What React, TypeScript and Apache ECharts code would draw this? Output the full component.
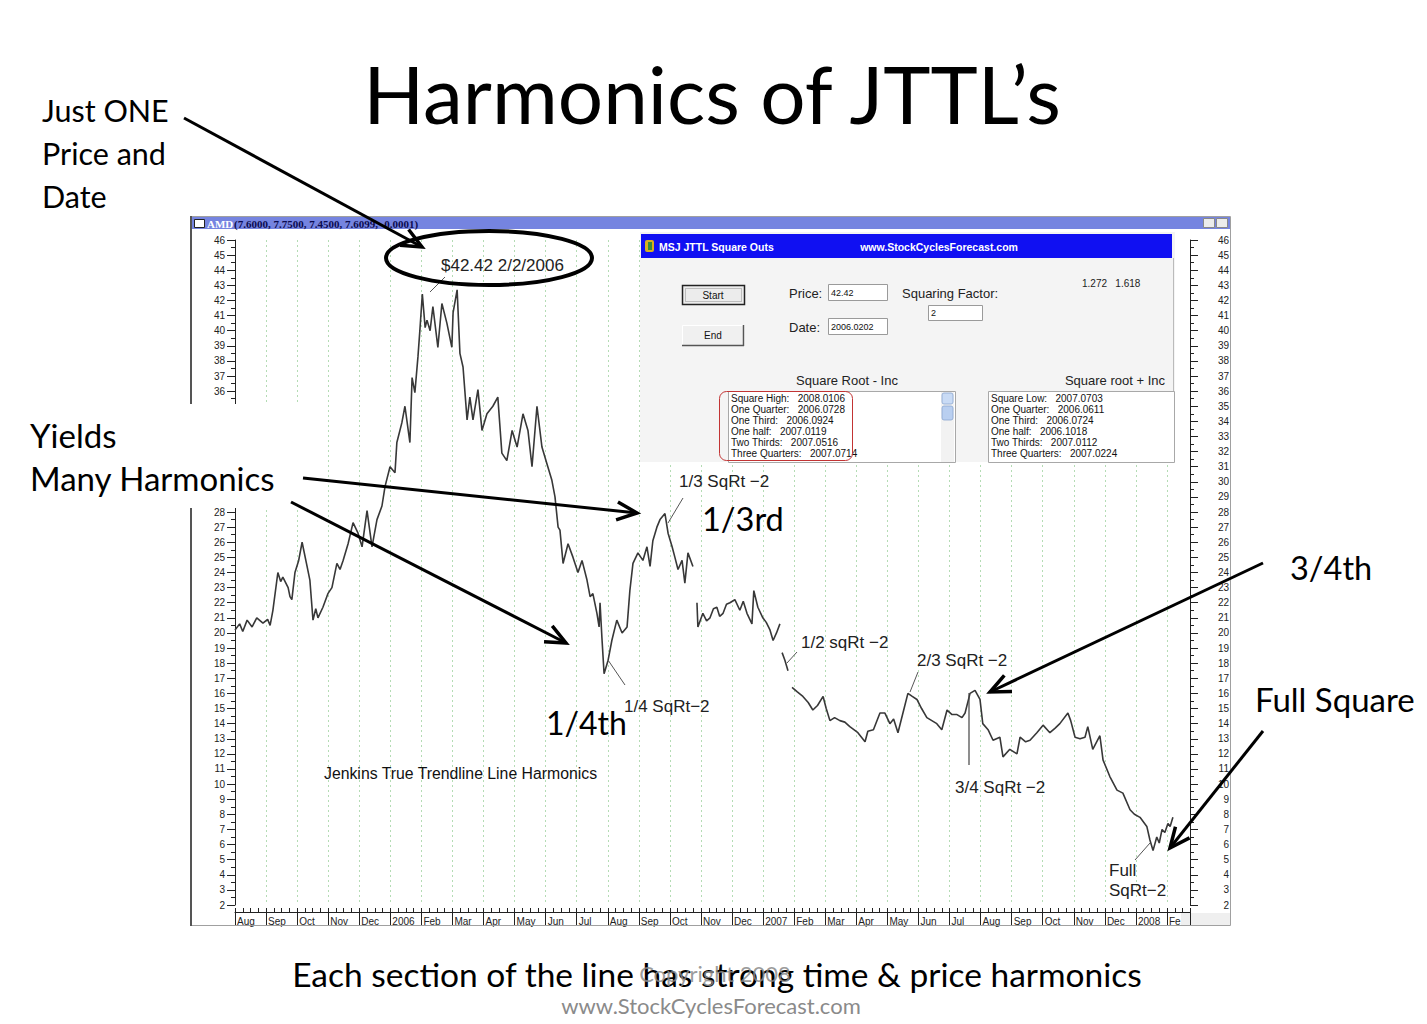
import React, { useEffect, useRef } from "react";
import * as echarts from "echarts";

// ---------- data ----------
// x = months since 1 Aug 2005 (0 = Aug 2005, 30 = Feb 2008), y = AMD price ($)
const monthLabels = [
  "Aug", "Sep", "Oct", "Nov", "Dec", "2006", "Feb", "Mar", "Apr", "May", "Jun", "Jul",
  "Aug", "Sep", "Oct", "Nov", "Dec", "2007", "Feb", "Mar", "Apr", "May", "Jun", "Jul",
  "Aug", "Sep", "Oct", "Nov", "Dec", "2008", "Fe",
];

// left price labels hidden behind the "Yields Many Harmonics" text box
const hiddenLeftPrices = [29, 30, 31, 32, 33, 34, 35];

const segmentA: [number, number][] = [
  [0.0, 20.2], [0.15, 20.6], [0.25, 20.1], [0.39, 20.85], [0.55, 20.4], [0.7, 21.0], [0.9, 20.65],
  [1.05, 20.9], [1.13, 20.5], [1.22, 21.5], [1.38, 24.0], [1.47, 23.4], [1.54, 23.7], [1.71, 23.0],
  [1.77, 22.4], [1.83, 22.2], [1.93, 24.0], [2.05, 24.8], [2.16, 26.0], [2.32, 24.4], [2.41, 23.5],
  [2.51, 20.85], [2.6, 21.6], [2.67, 21.0], [2.83, 21.7], [2.99, 22.6], [3.12, 23.0], [3.28, 24.6],
  [3.38, 24.2], [3.48, 24.8], [3.64, 25.9], [3.8, 27.3], [3.96, 26.6], [4.09, 25.7], [4.25, 28.1],
  [4.41, 25.7], [4.57, 27.5], [4.73, 28.4], [4.83, 29.7], [4.99, 31.0], [5.15, 30.6], [5.21, 32.6],
  [5.37, 33.9], [5.47, 35.0], [5.63, 32.6], [5.7, 36.9], [5.79, 35.9], [5.89, 38.3], [5.95, 40.0],
  [6.03, 42.42], [6.12, 40.2], [6.18, 40.7], [6.28, 40.0], [6.37, 41.6], [6.53, 38.9], [6.66, 41.8],
  [6.82, 40.5], [6.98, 38.9], [7.02, 41.2], [7.15, 42.7], [7.24, 38.5], [7.34, 37.6], [7.47, 34.1],
  [7.56, 35.6], [7.66, 34.1], [7.82, 36.1], [7.95, 33.4], [8.11, 34.5], [8.3, 35.0], [8.46, 35.6],
  [8.59, 31.9], [8.75, 31.4], [8.92, 33.4], [9.08, 32.3], [9.27, 34.5], [9.43, 33.4], [9.56, 31.0],
  [9.72, 35.0], [9.88, 32.3], [10.04, 31.2], [10.2, 30.1], [10.3, 29.0], [10.4, 27.0], [10.46, 26.8],
  [10.56, 24.6], [10.72, 25.9], [10.88, 25.0], [11.04, 24.0], [11.17, 24.8], [11.33, 23.5],
  [11.43, 22.4], [11.52, 22.6], [11.65, 21.3], [11.72, 20.4], [11.75, 22.0], [11.81, 19.7],
  [11.88, 17.3], [12.01, 18.2], [12.13, 19.5], [12.29, 20.85], [12.46, 20.0], [12.62, 20.4],
  [12.71, 22.8], [12.81, 24.6], [12.97, 25.3], [13.13, 24.8], [13.26, 25.7], [13.36, 24.4],
  [13.45, 26.1], [13.58, 27.0], [13.68, 27.5], [13.84, 27.9], [13.94, 26.6], [14.07, 25.7],
  [14.16, 25.0], [14.26, 24.2], [14.39, 24.8], [14.48, 23.3], [14.58, 25.3], [14.74, 24.4],
];

const segmentB: [number, number][] = [
  [14.87, 22.0], [14.9, 20.4], [15.06, 21.3], [15.18, 20.8], [15.29, 21.0], [15.4, 21.6], [15.51, 21.7],
  [15.6, 21.1], [15.71, 21.3], [15.82, 21.9], [15.93, 22.0], [16.09, 22.2], [16.25, 21.5], [16.36, 22.1],
  [16.48, 21.3], [16.64, 20.6], [16.7, 22.8], [16.83, 21.7], [16.99, 21.0], [17.1, 20.7], [17.22, 20.2],
  [17.32, 19.5], [17.43, 20.0], [17.54, 20.6],
];

const segmentC: [number, number][] = [
  [17.61, 18.7], [17.7, 18.2], [17.8, 17.5],
];

const segmentD: [number, number][] = [
  [17.93, 16.4], [18.1, 16.1], [18.28, 15.8], [18.45, 15.4], [18.6, 14.9], [18.75, 15.2], [18.93, 15.8],
  [19.03, 15.0], [19.15, 14.2], [19.3, 14.4], [19.47, 14.2], [19.63, 14.1], [19.79, 13.8], [20.05, 13.4],
  [20.28, 12.8], [20.37, 13.5], [20.55, 13.6], [20.76, 14.7], [20.92, 14.7], [21.08, 14.0], [21.2, 14.3],
  [21.34, 13.4], [21.5, 14.7], [21.66, 16.0], [21.8, 15.8], [21.95, 15.6], [22.1, 15.0], [22.27, 14.4],
  [22.43, 14.2], [22.59, 14.0], [22.75, 13.6], [22.92, 14.9], [23.08, 14.6], [23.24, 14.6], [23.4, 14.4],
  [23.5, 14.7], [23.66, 16.0], [23.82, 16.2], [23.9, 15.9], [23.98, 15.6], [24.07, 14.0], [24.24, 13.6],
  [24.4, 12.9], [24.62, 13.1], [24.72, 11.8], [24.94, 12.3], [25.17, 12.0], [25.27, 13.1], [25.45, 12.8],
  [25.59, 12.9], [25.81, 13.4], [26.01, 13.9], [26.23, 13.4], [26.4, 13.7], [26.55, 14.0], [26.81, 14.7],
  [26.9, 14.2], [27.04, 13.1], [27.2, 13.0], [27.36, 13.1], [27.45, 13.8], [27.61, 12.3], [27.84, 13.2],
  [27.94, 11.6], [28.16, 10.5], [28.39, 9.6], [28.58, 9.4], [28.81, 8.3], [28.95, 8.0], [29.13, 7.8],
  [29.35, 7.2], [29.45, 6.3], [29.55, 5.6], [29.67, 6.5], [29.75, 6.1], [29.84, 7.0], [29.93, 6.8],
  [30.03, 7.4], [30.1, 7.2], [30.19, 7.8],
];

const leftListLabels = ["Square High:", "One Quarter:", "One Third:", "One half:", "Two Thirds:", "Three Quarters:"];
const leftListValues = ["2008.0106", "2006.0728", "2006.0924", "2007.0119", "2007.0516", "2007.0714"];
const rightListLabels = ["Square Low:", "One Quarter:", "One Third:", "One half:", "Two Thirds:", "Three Quarters:"];
const rightListValues = ["2007.0703", "2006.0611", "2006.0724", "2006.1018", "2007.0112", "2007.0224"];

// ---------- styling helpers ----------
const SLIDE = "Lato, 'Open Sans', sans-serif";
const ARIAL = "'Liberation Sans', Arial, sans-serif";
const SERIF = "'Liberation Serif', 'Times New Roman', serif";

function txt(text: string, x: number, y: number, size: number, opts: any = {}) {
  const align = opts.align || "left";
  const va = opts.va || "middle";
  return {
    type: "text",
    z: opts.z ?? 20,
    x,
    y,
    style: {
      text,
      fontSize: size,
      fontFamily: opts.font || SLIDE,
      fontWeight: opts.weight || "normal",
      fill: opts.color || "#000",
      opacity: opts.opacity ?? 1,
      align,
      textAlign: align,
      verticalAlign: va,
      textVerticalAlign: va,
    },
  };
}

function seg(x1: number, y1: number, x2: number, y2: number, color = "#333", w = 1, z = 20) {
  return { type: "line", z, shape: { x1, y1, x2, y2 }, style: { stroke: color, lineWidth: w } };
}

function rect(x: number, y: number, w: number, h: number, style: any, z = 15, r = 0) {
  return { type: "rect", z, shape: { x, y, width: w, height: h, r }, style };
}

function arrow(x1: number, y1: number, x2: number, y2: number) {
  const a = Math.atan2(y2 - y1, x2 - x1);
  const L = 22;
  const s = 0.42;
  const p1 = [x2 - L * Math.cos(a - s), y2 - L * Math.sin(a - s)];
  const p2 = [x2 - L * Math.cos(a + s), y2 - L * Math.sin(a + s)];
  return [
    { type: "line", z: 40, shape: { x1, y1, x2, y2 }, style: { stroke: "#000", lineWidth: 3 } },
    { type: "polyline", z: 40, shape: { points: [p1, [x2, y2], p2] }, style: { stroke: "#000", lineWidth: 3.5, fill: "none", lineJoin: "miter" } },
  ];
}

function buildGraphics() {
  const g: any[] = [];
  // chart window frame
  g.push(rect(190.5, 216.5, 1040, 709, { fill: "none", stroke: "#a0a0a0", lineWidth: 1 }, 1));
  g.push(seg(191, 216, 191, 926, "#555", 2, 2));
  g.push(rect(192, 217, 1038, 12, { fill: "#7584e0" }, 2));
  g.push(rect(194.5, 219.5, 10, 8, { fill: "#ffffff", stroke: "#222", lineWidth: 1 }, 3));
  g.push(txt("AMD", 207, 223.5, 11, { font: SERIF, weight: "bold", color: "#ffffff", z: 3 }));
  g.push(txt("(7.6000, 7.7500, 7.4500, 7.6099, -0.0001)", 234, 223.5, 11, { font: SERIF, weight: "bold", color: "#0c0c50", z: 3 }));
  g.push(rect(1203.5, 218.5, 11, 9, { fill: "#ececec", stroke: "#888", lineWidth: 1 }, 3));
  g.push(rect(1216.5, 218.5, 11, 9, { fill: "#ececec", stroke: "#888", lineWidth: 1 }, 3));
  g.push(rect(1181, 913, 49, 12, { fill: "#efefef" }, -5));

  // white cover of the left text box
  g.push(rect(186, 404, 113, 104, { fill: "#ffffff" }, 12));

  // ---------- inset window ----------
  g.push(rect(640, 232, 535, 230, { fill: "#f4f4f4" }, 14));
  g.push(seg(1173.5, 258, 1173.5, 462, "#bbbbbb", 1, 15));
  g.push(rect(641, 234, 531, 24, { fill: "#1010f2" }, 15));
  g.push(rect(645, 240, 9, 12, { fill: "#d8b020" }, 16, 2));
  g.push(rect(648, 242, 4, 8, { fill: "#3a8a3a" }, 17));
  g.push(txt("MSJ JTTL Square Outs", 659, 247, 10.5, { font: ARIAL, weight: "bold", color: "#ffffff", z: 16 }));
  g.push(txt("www.StockCyclesForecast.com", 939, 247, 10.5, { font: ARIAL, weight: "bold", color: "#ffffff", align: "center", z: 16 }));
  // buttons
  g.push(rect(682.5, 285.5, 62, 19, { fill: "#ececec", stroke: "#222", lineWidth: 1.5 }, 15));
  g.push(rect(685.5, 288.5, 56, 13, { fill: "none", stroke: "#777", lineWidth: 0.8, lineDash: [1, 1] }, 16));
  g.push(txt("Start", 713, 295, 10, { font: ARIAL, align: "center", color: "#111", z: 16 }));
  g.push(rect(682.5, 325.5, 62, 20, { fill: "#f0f0f0", stroke: "#ffffff", lineWidth: 1 }, 15));
  g.push(seg(743.5, 325, 743.5, 346, "#555", 1.5, 16));
  g.push(seg(682, 345.5, 744, 345.5, "#555", 1.5, 16));
  g.push(txt("End", 713, 335, 10, { font: ARIAL, align: "center", color: "#111", z: 16 }));
  // inputs
  g.push(txt("Price:", 789, 293, 13, { font: ARIAL, color: "#222", z: 16 }));
  g.push(rect(828.5, 284.5, 59, 16, { fill: "#ffffff", stroke: "#9a9a9a", lineWidth: 1 }, 15));
  g.push(txt("42.42", 831, 292.5, 9, { font: ARIAL, color: "#111", z: 16 }));
  g.push(txt("Date:", 789, 327, 13, { font: ARIAL, color: "#222", z: 16 }));
  g.push(rect(828.5, 318.5, 59, 16, { fill: "#ffffff", stroke: "#9a9a9a", lineWidth: 1 }, 15));
  g.push(txt("2006.0202", 831, 326.5, 9, { font: ARIAL, color: "#111", z: 16 }));
  g.push(txt("Squaring Factor:", 902, 293, 13, { font: ARIAL, color: "#222", z: 16 }));
  g.push(rect(928.5, 305.5, 54, 15, { fill: "#ffffff", stroke: "#9a9a9a", lineWidth: 1 }, 15));
  g.push(txt("2", 931, 313, 9, { font: ARIAL, color: "#111", z: 16 }));
  g.push(txt("1.272   1.618", 1082, 283, 10, { font: ARIAL, color: "#222", z: 16 }));
  g.push(txt("Square Root - Inc", 847, 380, 13, { font: ARIAL, color: "#222", align: "center", z: 16 }));
  g.push(txt("Square root + Inc", 1165, 380, 13, { font: ARIAL, color: "#222", align: "right", z: 16 }));
  // list boxes
  g.push(rect(728.5, 391.5, 227, 71, { fill: "#ffffff", stroke: "#a8a8a8", lineWidth: 1 }, 15));
  g.push(rect(941, 392, 13, 70, { fill: "#f2f2f2" }, 16));
  g.push(rect(942, 393, 11, 11, { fill: "#c9dbf5", stroke: "#8aa6d0", lineWidth: 0.8 }, 17, 2));
  g.push(rect(942, 406, 11, 14, { fill: "#b9cff0", stroke: "#8aa6d0", lineWidth: 0.8 }, 17, 2));
  g.push(rect(988.5, 391.5, 186, 71, { fill: "#ffffff", stroke: "#a8a8a8", lineWidth: 1 }, 15));
  leftListLabels.forEach((l, i) => {
    g.push(txt(l + "   " + leftListValues[i], 731, 398.5 + i * 11, 10, { font: ARIAL, color: "#111", z: 17 }));
  });
  rightListLabels.forEach((l, i) => {
    g.push(txt(l + "   " + rightListValues[i], 991, 398.5 + i * 11, 10, { font: ARIAL, color: "#111", z: 17 }));
  });
  g.push(rect(719.5, 391.5, 133, 69, { fill: "none", stroke: "#c23434", lineWidth: 1 }, 18, 7));

  // ---------- chart annotations ----------
  g.push(txt("$42.42 2/2/2006", 441, 265, 17, { font: ARIAL, color: "#222" }));
  g.push(seg(430, 292, 445, 277, "#555", 1));
  g.push({ type: "ellipse", z: 30, shape: { cx: 489, cy: 258, rx: 103, ry: 27 }, style: { fill: "none", stroke: "#000", lineWidth: 4 } });
  g.push(txt("1/3 SqRt \u22122", 679, 481, 17, { font: ARIAL, color: "#222" }));
  g.push(seg(668, 523, 683, 498, "#555", 1));
  g.push(txt("1/4 SqRt\u22122", 624, 706, 17, { font: ARIAL, color: "#222" }));
  g.push(seg(608, 660, 625, 685, "#555", 1));
  g.push(txt("1/2 sqRt \u22122", 801, 642, 17, { font: ARIAL, color: "#222" }));
  g.push(seg(787, 663, 797, 652, "#555", 1));
  g.push(txt("2/3 SqRt \u22122", 917, 660, 17, { font: ARIAL, color: "#222" }));
  g.push(seg(910, 692, 918, 672, "#555", 1));
  g.push(txt("3/4 SqRt \u22122", 955, 787, 17, { font: ARIAL, color: "#222" }));
  g.push(seg(969, 693, 969, 765, "#444", 1.2));
  g.push(txt("Full", 1109, 870, 17, { font: ARIAL, color: "#222" }));
  g.push(txt("SqRt\u22122", 1109, 890, 17, { font: ARIAL, color: "#222" }));
  g.push(seg(1150, 843, 1135, 860, "#555", 1));
  g.push(txt("Jenkins True Trendline Line Harmonics", 324, 773, 15.8, { font: ARIAL, color: "#111" }));

  // ---------- slide texts ----------
  g.push(txt("Harmonics of JTTL\u2019s", 712, 93, 80, { align: "center" }));
  g.push(txt("Just ONE", 42, 110, 30.5));
  g.push(txt("Price and", 42, 153, 30.5));
  g.push(txt("Date", 42, 196, 30.5));
  g.push(txt("Yields", 30, 435, 33));
  g.push(txt("Many Harmonics", 30, 478, 33));
  g.push(txt("1/3rd", 702, 518, 32.5));
  g.push(txt("1/4th", 546, 722, 32));
  g.push(txt("3/4th", 1290, 567, 32.5));
  g.push(txt("Full Square", 1255, 699, 33));
  g.push(txt("Each section of the line has strong time & price harmonics", 717, 974, 33.5, { align: "center" }));
  g.push(txt("Copyright 2008", 715, 973, 22, { align: "center", color: "#8a8a8a", opacity: 0.85, z: 25 }));
  g.push(txt("www.StockCyclesForecast.com", 711, 1005, 22, { align: "center", color: "#8a8a8a" }));

  // ---------- arrows ----------
  g.push(...arrow(184, 118, 422, 247));
  g.push(...arrow(303, 478, 637, 513));
  g.push(...arrow(291, 502, 566, 643));
  g.push(...arrow(1263, 563, 990, 692));
  g.push(...arrow(1263, 731, 1170, 848));
  return g;
}

const X_MAX = 30.74;

export default function App() {
  const ref = useRef<HTMLDivElement>(null);
  useEffect(() => {
    if (!ref.current) return;
    const chart = echarts.init(ref.current, undefined, { renderer: "svg" });
    const lineSeries = (data: [number, number][]) => ({
      type: "line",
      data,
      symbol: "none",
      xAxisIndex: 0,
      yAxisIndex: 0,
      z: 5,
      lineStyle: { color: "#383838", width: 1.6 },
    });
    const yAxisFor = (side: "left" | "right", label: any) => ({
      type: "value",
      position: side,
      min: 2,
      max: 46,
      interval: 1,
      axisLine: { show: true, onZero: false, lineStyle: { color: "#222", width: 1 } },
      axisTick: { show: true, inside: false, length: 8, lineStyle: { color: "#222" } },
      minorTick: { show: true, splitNumber: 2, length: 4, lineStyle: { color: "#222" } },
      splitLine: { show: false },
      axisLabel: label,
    });
    chart.setOption({
      animation: false,
      backgroundColor: "#ffffff",
      grid: { left: 235, right: 237, top: 240, bottom: 119, containLabel: false },
      xAxis: [
        {
          type: "value",
          min: 0,
          max: X_MAX,
          interval: 1,
          position: "bottom",
          offset: 7,
          axisLine: { show: true, onZero: false, lineStyle: { color: "#222", width: 1 } },
          axisTick: { show: true, inside: false, length: 13, lineStyle: { color: "#222" } },
          axisLabel: {
            formatter: (v: number) => (Math.abs(v - Math.round(v)) < 1e-6 ? monthLabels[Math.round(v)] || "" : ""),
            align: "left",
            margin: 4,
            padding: [0, 0, 0, 2],
            fontSize: 10,
            color: "#222",
            fontFamily: ARIAL,
          },
          splitLine: { show: true, lineStyle: { color: "#b4dcb4", type: [2, 3], width: 1 } },
        },
        {
          type: "value",
          min: 0,
          max: X_MAX,
          interval: 0.25,
          position: "bottom",
          offset: 7,
          axisLine: { show: false, onZero: false },
          axisTick: { show: true, inside: true, length: 4, lineStyle: { color: "#222" } },
          axisLabel: { show: false },
          splitLine: { show: false },
        },
      ],
      yAxis: [
        yAxisFor("left", {
          fontSize: 10,
          margin: 10,
          color: "#222",
          fontFamily: ARIAL,
          formatter: (v: number) => (hiddenLeftPrices.includes(v) ? "" : String(v)),
        }),
        yAxisFor("right", {
          fontSize: 10,
          margin: 39,
          align: "right",
          color: "#222",
          fontFamily: ARIAL,
        }),
      ],
      series: [lineSeries(segmentA), lineSeries(segmentB), lineSeries(segmentC), lineSeries(segmentD)],
      graphic: { elements: buildGraphics() },
    });
    return () => chart.dispose();
  }, []);
  return (
    <div
      ref={ref}
      style={{ position: "absolute", left: 0, top: 0, width: 1427, height: 1024, background: "#fff" }}
    />
  );
}
